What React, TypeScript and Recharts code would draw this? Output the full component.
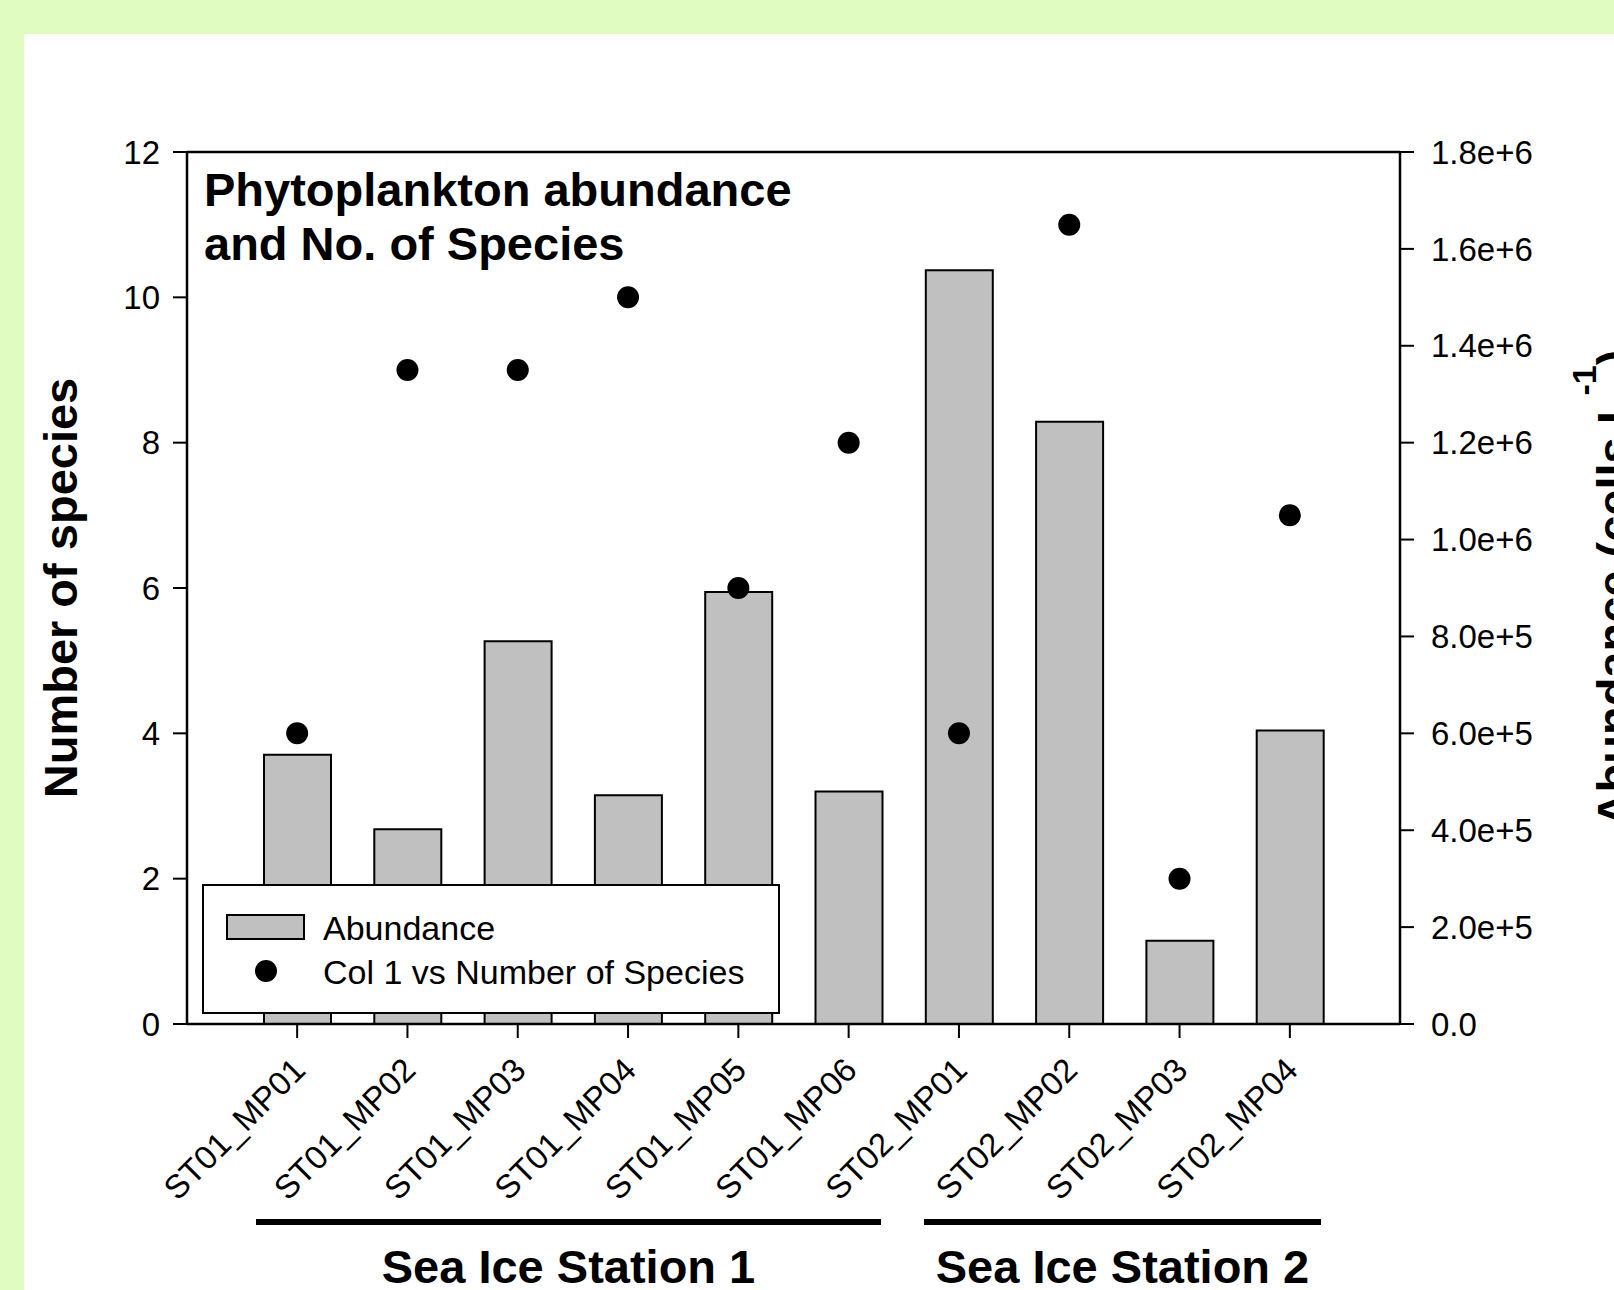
import React from 'react';
import {
  ComposedChart,
  Bar,
  Scatter,
  XAxis,
  YAxis,
  ReferenceLine,
  Legend,
} from 'recharts';

const sites = [
  'ST01_MP01',
  'ST01_MP02',
  'ST01_MP03',
  'ST01_MP04',
  'ST01_MP05',
  'ST01_MP06',
  'ST02_MP01',
  'ST02_MP02',
  'ST02_MP03',
  'ST02_MP04',
];
// cells per litre, right axis
const abundance = [556000, 402000, 790000, 472000, 892000, 480000, 1556000, 1243000, 172000, 606000];
// number of species, left axis
const species = [4, 9, 9, 10, 6, 8, 4, 11, 2, 7];

const speciesTicks = [0, 2, 4, 6, 8, 10, 12];
const abundanceTicks = [0, 200000, 400000, 600000, 800000, 1000000, 1200000, 1400000, 1600000, 1800000];

const stations = [
  { name: 'Sea Ice Station 1', x1: 256, x2: 881 },
  { name: 'Sea Ice Station 2', x1: 924, x2: 1321 },
];

const rows = sites.map((site, i) => ({
  site,
  abundance: abundance[i],
  species: species[i],
}));

const FONT = '"Liberation Sans", Arial, Helvetica, sans-serif';
const W = 1614;
const H = 1290;

const fmtAbundance = (v: number) => (v === 0 ? '0.0' : v.toExponential(1));

function SiteTick(props: any) {
  const { x, y, payload } = props;
  const tx = x + 10;
  const ty = y + 34;
  return (
    <text
      x={tx}
      y={ty}
      transform={`rotate(-45, ${tx}, ${ty})`}
      textAnchor="end"
      fontSize={33}
      fontFamily={FONT}
      fill="#000"
    >
      {payload.value}
    </text>
  );
}

function SpeciesDot(props: any) {
  const { cx, cy } = props;
  if (cx == null || cy == null) return null;
  return <circle cx={cx} cy={cy} r={11} fill="#000" />;
}

function LegendBox() {
  return (
    <svg width={578} height={130} style={{ display: 'block' }}>
      <rect x={1} y={1} width={576} height={128} fill="#fff" stroke="#000" strokeWidth={2} />
      <rect x={25} y={31} width={77} height={24} fill="#c0c0c0" stroke="#000" strokeWidth={2} />
      <text x={121} y={56} fontSize={34} fontFamily={FONT} fill="#000">
        Abundance
      </text>
      <circle cx={64} cy={87} r={11} fill="#000" />
      <text x={121} y={100} fontSize={34} fontFamily={FONT} fill="#000">
        Col 1 vs Number of Species
      </text>
    </svg>
  );
}

export default function App() {
  const tickStyle = { fontSize: 33, fill: '#000', fontFamily: FONT };
  return (
    <div
      style={{
        position: 'absolute',
        left: 0,
        top: 0,
        width: W,
        height: H,
        background: '#e1fcc0',
        overflow: 'hidden',
      }}
    >
      <div
        style={{ position: 'absolute', left: 24, top: 34, right: 0, bottom: 0, background: '#fff' }}
      />
      <div style={{ position: 'absolute', left: 0, top: 0 }}>
        <ComposedChart
          width={W}
          height={H}
          data={rows}
          margin={{ top: 152, right: 0, bottom: 0, left: 0 }}
        >
          <XAxis
            dataKey="site"
            height={266}
            interval={0}
            padding={{ left: 55, right: 55 }}
            tickSize={14}
            tickMargin={0}
            stroke="#000"
            axisLine={{ stroke: '#000', strokeWidth: 2.5 }}
            tickLine={{ stroke: '#000', strokeWidth: 2 }}
            tick={<SiteTick />}
          />
          <YAxis
            yAxisId="left"
            orientation="left"
            width={187}
            domain={[0, 12]}
            ticks={speciesTicks}
            interval={0}
            tickSize={14}
            tickMargin={13}
            axisLine={{ stroke: '#000', strokeWidth: 2.5 }}
            tickLine={{ stroke: '#000', strokeWidth: 2 }}
            tick={tickStyle}
          />
          <YAxis
            yAxisId="right"
            orientation="right"
            width={214}
            domain={[0, 1800000]}
            ticks={abundanceTicks}
            interval={0}
            tickSize={14}
            tickMargin={17}
            tickFormatter={fmtAbundance}
            axisLine={{ stroke: '#000', strokeWidth: 2.5 }}
            tickLine={{ stroke: '#000', strokeWidth: 2 }}
            tick={tickStyle}
          />
          <ReferenceLine yAxisId="left" y={12} stroke="#000" strokeWidth={2.5} />
          <Bar
            yAxisId="right"
            dataKey="abundance"
            name="Abundance"
            barSize={67}
            fill="#c0c0c0"
            stroke="#000"
            strokeWidth={2}
            isAnimationActive={false}
          />
          <Scatter
            yAxisId="left"
            dataKey="species"
            name="Col 1 vs Number of Species"
            shape={<SpeciesDot />}
            isAnimationActive={false}
          />
          <Legend
            layout="horizontal"
            verticalAlign="middle"
            align="center"
            content={() => <LegendBox />}
            wrapperStyle={{ left: 202, top: 884, width: 578, height: 130 }}
          />
        </ComposedChart>
      </div>
      <svg
        width={W}
        height={H}
        style={{ position: 'absolute', left: 0, top: 0, pointerEvents: 'none' }}
        fontFamily={FONT}
      >
        <text x={204} y={206} fontSize={47} fontWeight="bold" fill="#000">
          Phytoplankton abundance
        </text>
        <text x={204} y={260} fontSize={47} fontWeight="bold" fill="#000">
          and No. of Species
        </text>
        <text
          x={77}
          y={588}
          transform="rotate(-90, 77, 588)"
          textAnchor="middle"
          fontSize={47}
          fontWeight="bold"
          fill="#000"
        >
          Number of species
        </text>
        <text
          x={1630}
          y={588}
          transform="rotate(-90, 1630, 588)"
          textAnchor="middle"
          fontSize={47}
          fontWeight="bold"
          fill="#000"
        >
          Abundance (cells L
          <tspan fontSize={34} dy={-34}>
            -1
          </tspan>
          <tspan dy={34}>)</tspan>
        </text>
        {stations.map((s) => (
          <g key={s.name}>
            <line x1={s.x1} x2={s.x2} y1={1222} y2={1222} stroke="#000" strokeWidth={6} />
            <text
              x={(s.x1 + s.x2) / 2}
              y={1283}
              textAnchor="middle"
              fontSize={47}
              fontWeight="bold"
              fill="#000"
            >
              {s.name}
            </text>
          </g>
        ))}
      </svg>
    </div>
  );
}
